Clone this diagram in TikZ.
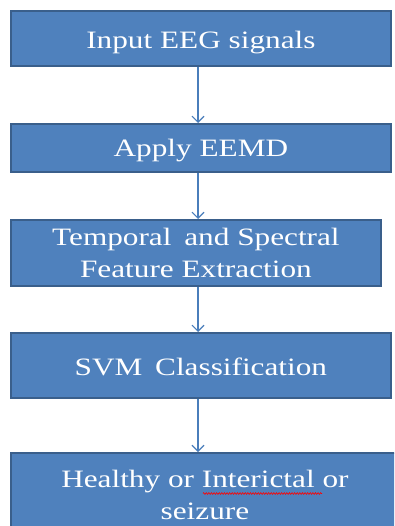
\documentclass[tikz,border=0pt]{standalone}
\usepackage{fontspec}
\newfontfamily\boxfont[FakeStretch=1.25]{Liberation Serif}
\usetikzlibrary{arrows.meta,decorations.pathmorphing}
\definecolor{boxfill}{HTML}{4F81BD}
\definecolor{boxline}{HTML}{3A5F8B}
\definecolor{arrowblue}{HTML}{4A7EBB}
\tikzset{
  stepbox/.style={rectangle, draw=boxline, line width=1.8pt, fill=boxfill,
    anchor=north west, inner sep=0pt, text=white, align=center,
    font=\boxfont\fontsize{25}{32}\selectfont},
  flow/.style={draw=arrowblue, line width=1.1pt,
    -{Straight Barb[length=6pt,width=12pt,line width=1.1pt]}},
}
\begin{document}
\begin{tikzpicture}[x=1pt,y=-1pt]
  \useasboundingbox (0,0) rectangle (394,526);
  \clip (0,0) rectangle (394,526);
  \fill[white] (0,0) rectangle (394,526);

  \node[stepbox, minimum width=380pt, minimum height=55pt,
        text height=21pt, text depth=0pt] (b1) at (10,10)
    {Input EEG signals};
  \node[stepbox, minimum width=380pt, minimum height=48pt,
        text height=17pt, text depth=0pt] (b2) at (10,123)
    {Apply EEMD};
  \node[stepbox, minimum width=370pt, minimum height=66pt] (b3) at (10,219)
    {Temporal\hspace{0.2em} and Spectral\\Feature Extraction};
  \node[stepbox, minimum width=380pt, minimum height=65pt,
        text height=21pt, text depth=0pt] (b4) at (10,332)
    {SVM\hspace{0.2em} Classification};
  \node[stepbox, minimum width=388pt, minimum height=84pt] (b5) at (10,452)
    {Healthy or Interictal or\\seizure};

  % red spell-check squiggle under "Interictal"
  \draw[red, line width=0.6pt, decorate,
        decoration={zigzag, segment length=2.6pt, amplitude=0.9pt}]
    (203,493.5) -- (322,493.5);

  % connectors along one vertical line
  \coordinate (ax) at (198,0);
  \draw[flow] (b1.south -| ax) -- (b2.north -| ax);
  \draw[flow] (b2.south -| ax) -- (b3.north -| ax);
  \draw[flow] (b3.south -| ax) -- (b4.north -| ax);
  \draw[flow] (b4.south -| ax) -- (b5.north -| ax);
\end{tikzpicture}
\end{document}
